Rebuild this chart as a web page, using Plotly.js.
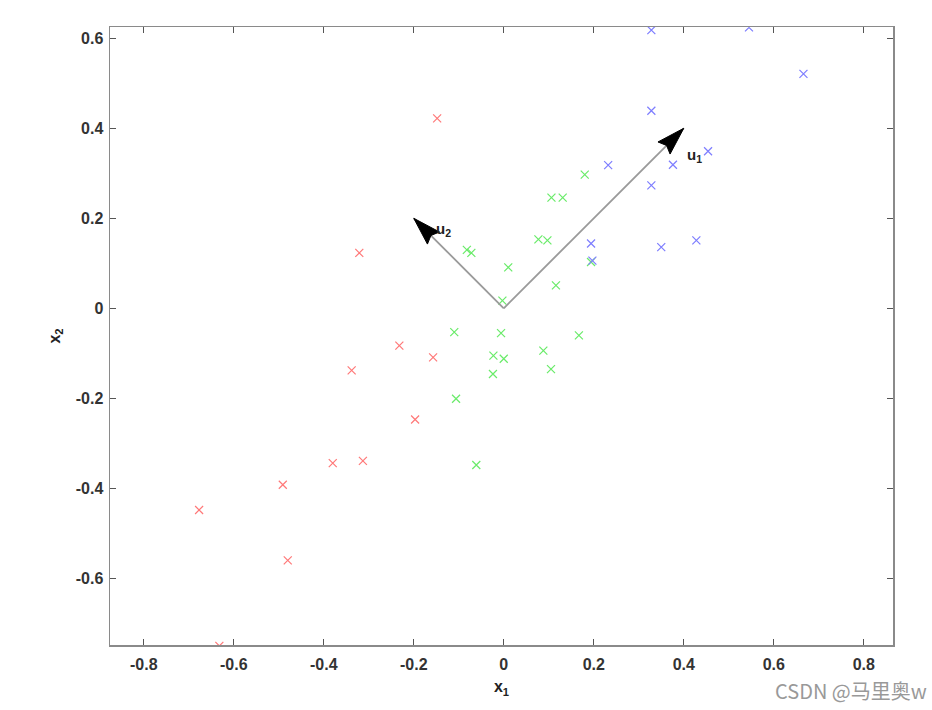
<!DOCTYPE html>
<html>
<head>
<meta charset="utf-8">
<script src="https://cdn.plot.ly/plotly-3.0.1.min.js"></script>
<style>html,body{margin:0;padding:0;background:#fff;}#chart{width:932px;height:710px;}</style>
</head>
<body>
<div id="chart"></div>
<script>
// Cluster 1 (red)
const redX = [-0.148, -0.321, -0.232, -0.157, -0.338, -0.197, -0.380, -0.313, -0.491, -0.677, -0.480, -0.632];
const redY = [0.422, 0.123, -0.083, -0.109, -0.138, -0.247, -0.344, -0.339, -0.392, -0.448, -0.560, -0.750];
// Cluster 2 (green)
const greenX = [-0.082, -0.072, -0.003, 0.010, 0.116, 0.077, 0.097, 0.106, 0.131, 0.180, 0.194, -0.006, -0.023, 0.000, -0.024, 0.088, 0.105, 0.167, -0.110, -0.106, -0.061];
const greenY = [0.130, 0.123, 0.017, 0.091, 0.051, 0.153, 0.151, 0.246, 0.246, 0.297, 0.103, -0.055, -0.105, -0.112, -0.146, -0.094, -0.135, -0.060, -0.053, -0.201, -0.348];
// Cluster 3 (blue)
const blueX = [0.328, 0.545, 0.666, 0.328, 0.454, 0.232, 0.376, 0.328, 0.194, 0.350, 0.428, 0.197];
const blueY = [0.618, 0.624, 0.521, 0.439, 0.349, 0.318, 0.319, 0.273, 0.144, 0.136, 0.151, 0.106];
// Principal directions (arrow vectors from the origin)
const u1 = [0.40, 0.40];
const u2 = [-0.20, 0.20];
const arrowLabels = ["u<sub>1</sub>", "u<sub>2</sub>"];
const xTicks = [-0.8, -0.6, -0.4, -0.2, 0, 0.2, 0.4, 0.6, 0.8];
const yTicks = [-0.6, -0.4, -0.2, 0, 0.2, 0.4, 0.6];

const FONT = "Liberation Sans, Arial, sans-serif";
function pts(x, y, color) {
  return {x: x, y: y, type: 'scatter', mode: 'markers', cliponaxis: true, hoverinfo: 'skip',
    marker: {symbol: 'x-thin-open', size: 8, color: color, line: {width: 1.2, color: color}}};
}
function shaft(v) {
  return {x: [0, v[0]], y: [0, v[1]], type: 'scatter', mode: 'lines', hoverinfo: 'skip',
    line: {color: '#9a9a9a', width: 1.8}};
}
function head(v) {
  const L = Math.hypot(v[0], v[1]);
  const d = [v[0] / L, v[1] / L], n = [-d[1], d[0]];
  const len = 0.062, hw = 0.019, notch = 0.008;
  const bx = v[0] - d[0] * len, by = v[1] - d[1] * len;
  const nx = v[0] - d[0] * (len - notch), ny = v[1] - d[1] * (len - notch);
  return {x: [v[0], bx + n[0] * hw, nx, bx - n[0] * hw, v[0]],
          y: [v[1], by + n[1] * hw, ny, by - n[1] * hw, v[1]],
          type: 'scatter', mode: 'lines', fill: 'toself', fillcolor: '#000', hoverinfo: 'skip',
          line: {color: '#000', width: 1}};
}
const data = [pts(redX, redY, 'rgb(255,120,120)'), pts(greenX, greenY, 'rgb(105,235,105)'), pts(blueX, blueY, 'rgb(125,125,255)'),
  shaft(u1), shaft(u2), head(u1), head(u2)];

const axisCommon = {showgrid: false, zeroline: false, showline: true, mirror: 'ticks', linecolor: '#8a8a8a', linewidth: 1.5,
  ticks: 'inside', ticklen: 6, tickwidth: 1.2, tickcolor: '#555', tickfont: {family: FONT, size: 16, color: '#333', weight: 'bold'}};

const layout = {
  width: 932, height: 710, showlegend: false,
  paper_bgcolor: '#fff', plot_bgcolor: '#fff',
  margin: {l: 110, r: 39, t: 27, b: 65},
  xaxis: Object.assign({}, axisCommon, {range: [-0.875, 0.865], tickvals: xTicks, ticktext: xTicks.map(String), ticklabelstandoff: 4,
    title: {text: 'x<sub>1</sub>', font: {family: FONT, size: 16, color: '#222', weight: 'bold'}, standoff: 9}}),
  yaxis: Object.assign({}, axisCommon, {range: [-0.748, 0.625], tickvals: yTicks, ticktext: yTicks.map(String), ticklabelstandoff: 2,
    title: {text: 'x<sub>2</sub>', font: {family: FONT, size: 16, color: '#222', weight: 'bold'}, standoff: 11}}),
  annotations: [
    {x: u1[0], y: u1[1], xref: 'x', yref: 'y', text: '<b>' + arrowLabels[0] + '</b>', showarrow: false,
     xanchor: 'left', yanchor: 'top', xshift: 1, yshift: -16, font: {family: FONT, size: 15, color: '#222'}},
    {x: u2[0], y: u2[1], xref: 'x', yref: 'y', text: '<b>' + arrowLabels[1] + '</b>', showarrow: false,
     xanchor: 'left', yanchor: 'top', xshift: 20, yshift: 0, font: {family: FONT, size: 15, color: '#222'}},
    {x: 1, y: 0, xref: 'paper', yref: 'paper', xanchor: 'right', yanchor: 'top', xshift: 36, yshift: -29,
     text: 'CSDN @马里奥w', showarrow: false, font: {family: 'Noto Sans CJK SC, sans-serif', size: 20, color: '#999'}}
  ]
};
Plotly.newPlot('chart', data, layout, {displayModeBar: false, staticPlot: true});
</script>
</body>
</html>
